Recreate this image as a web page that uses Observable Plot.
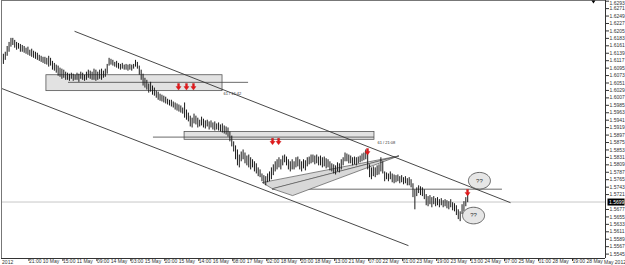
<!DOCTYPE html>
<html>
<head>
<meta charset="utf-8">
<script src="https://cdn.jsdelivr.net/npm/d3@7"></script>
<script src="https://cdn.jsdelivr.net/npm/@observablehq/plot@0.6"></script>
<style>
  html, body { margin: 0; padding: 0; background: #fff; }
  #chart svg { display: block; }
</style>
</head>
<body>
<div id="chart"></div>
<script>
// ---- hourly bars (GBP/USD, May 2012) ----
const high = [
1.6148,1.6136,1.6142,1.6159,1.6171,1.6183,1.6183,1.6177,1.6171,1.6168,
1.6165,1.6162,1.6159,1.6154,1.6157,1.6148,1.6151,1.6145,1.6142,1.6139,
1.6133,1.6130,1.6127,1.6127,1.6124,1.6130,1.6124,1.6115,1.6109,1.6104,
1.6101,1.6095,1.6092,1.6089,1.6083,1.6080,1.6077,1.6080,1.6077,1.6074,
1.6080,1.6077,1.6083,1.6080,1.6074,1.6083,1.6089,1.6086,1.6083,1.6092,
1.6089,1.6083,1.6089,1.6092,1.6086,1.6092,1.6106,1.6124,1.6121,1.6118,
1.6112,1.6115,1.6109,1.6106,1.6109,1.6104,1.6106,1.6104,1.6106,1.6104,
1.6106,1.6118,1.6112,1.6101,1.6089,1.6077,1.6065,1.6059,1.6048,1.6053,
1.6042,1.6036,1.6027,1.6024,1.6018,1.6015,1.6012,1.6009,1.6003,1.6000,
1.6000,1.5995,1.5992,1.5989,1.5986,1.5983,1.5977,1.5992,1.5971,1.5962,
1.5953,1.5947,1.5959,1.5953,1.5947,1.5941,1.5950,1.5944,1.5939,1.5941,
1.5936,1.5939,1.5933,1.5936,1.5930,1.5933,1.5927,1.5930,1.5924,1.5921,
1.5918,1.5906,1.5894,1.5877,1.5865,1.5853,1.5838,1.5847,1.5853,1.5844,
1.5835,1.5838,1.5830,1.5824,1.5818,1.5812,1.5800,1.5794,1.5782,1.5777,
1.5774,1.5782,1.5788,1.5800,1.5809,1.5818,1.5824,1.5830,1.5824,1.5835,
1.5838,1.5832,1.5824,1.5818,1.5824,1.5818,1.5830,1.5832,1.5824,1.5818,
1.5824,1.5821,1.5830,1.5832,1.5838,1.5838,1.5835,1.5838,1.5832,1.5835,
1.5830,1.5832,1.5827,1.5824,1.5818,1.5812,1.5809,1.5806,1.5815,1.5812,
1.5824,1.5830,1.5844,1.5841,1.5838,1.5835,1.5830,1.5832,1.5830,1.5832,
1.5835,1.5841,1.5844,1.5853,1.5853,1.5809,1.5800,1.5803,1.5800,1.5806,
1.5809,1.5830,1.5818,1.5788,1.5785,1.5782,1.5788,1.5782,1.5779,1.5777,
1.5779,1.5774,1.5777,1.5771,1.5774,1.5768,1.5771,1.5765,1.5753,1.5735,
1.5741,1.5747,1.5744,1.5741,1.5735,1.5721,1.5715,1.5718,1.5712,1.5715,
1.5709,1.5712,1.5706,1.5709,1.5703,1.5706,1.5703,1.5700,1.5706,1.5697,
1.5694,1.5688,1.5676,1.5670,1.5691,1.5700,1.5712,1.5726
];
const low = [
1.6098,1.6106,1.6118,1.6130,1.6142,1.6157,1.6162,1.6154,1.6148,1.6151,
1.6142,1.6142,1.6139,1.6136,1.6133,1.6130,1.6127,1.6124,1.6121,1.6118,
1.6115,1.6112,1.6109,1.6106,1.6104,1.6098,1.6101,1.6089,1.6086,1.6080,
1.6071,1.6068,1.6062,1.6065,1.6059,1.6059,1.6056,1.6062,1.6056,1.6059,
1.6059,1.6053,1.6062,1.6059,1.6056,1.6059,1.6065,1.6062,1.6059,1.6059,
1.6056,1.6059,1.6062,1.6059,1.6065,1.6068,1.6077,1.6101,1.6104,1.6101,
1.6098,1.6095,1.6092,1.6089,1.6092,1.6089,1.6089,1.6086,1.6089,1.6086,
1.6092,1.6098,1.6092,1.6074,1.6059,1.6042,1.6036,1.6030,1.6021,1.6024,
1.6015,1.6012,1.6006,1.6000,1.5997,1.5995,1.5992,1.5989,1.5986,1.5983,
1.5980,1.5977,1.5971,1.5968,1.5965,1.5962,1.5959,1.5947,1.5941,1.5936,
1.5921,1.5918,1.5930,1.5927,1.5918,1.5921,1.5924,1.5918,1.5915,1.5921,
1.5912,1.5918,1.5912,1.5909,1.5912,1.5909,1.5906,1.5903,1.5900,1.5897,
1.5891,1.5877,1.5862,1.5847,1.5824,1.5806,1.5800,1.5818,1.5824,1.5812,
1.5806,1.5800,1.5794,1.5800,1.5788,1.5782,1.5774,1.5771,1.5759,1.5753,
1.5747,1.5756,1.5759,1.5765,1.5777,1.5788,1.5794,1.5800,1.5794,1.5806,
1.5815,1.5806,1.5794,1.5788,1.5794,1.5794,1.5800,1.5803,1.5794,1.5788,
1.5797,1.5791,1.5803,1.5809,1.5812,1.5815,1.5809,1.5812,1.5806,1.5806,
1.5800,1.5803,1.5797,1.5800,1.5791,1.5788,1.5782,1.5779,1.5788,1.5785,
1.5794,1.5806,1.5818,1.5818,1.5812,1.5812,1.5806,1.5809,1.5806,1.5812,
1.5815,1.5818,1.5821,1.5824,1.5794,1.5771,1.5765,1.5774,1.5771,1.5777,
1.5779,1.5788,1.5782,1.5759,1.5765,1.5759,1.5765,1.5756,1.5753,1.5756,
1.5759,1.5753,1.5756,1.5750,1.5753,1.5747,1.5747,1.5741,1.5712,1.5676,
1.5715,1.5724,1.5718,1.5715,1.5706,1.5688,1.5685,1.5691,1.5682,1.5691,
1.5685,1.5688,1.5682,1.5688,1.5682,1.5685,1.5679,1.5676,1.5682,1.5673,
1.5670,1.5659,1.5647,1.5641,1.5662,1.5670,1.5685,1.5697
];
const lastPrice = 1.5699;

// ---- axis ticks ----
const xTickIdx = [14,32,50,68,86,104,122,140,158,176,194,212,230,248,266,284,302];
const xTickLabels = ["21:00 10 May","15:00 11 May","09:00 14 May","03:00 15 May","20:00 15 May",
  "14:00 16 May","08:00 17 May","02:00 18 May","20:00 18 May","13:00 21 May","07:00 22 May",
  "01:00 23 May","19:00 23 May","13:00 24 May","07:00 25 May","01:00 28 May","19:00 28 May"];
const yTickLabels = ["1.6293","1.6271","1.6249","1.6227","1.6205","1.6183","1.6161","1.6139","1.6117",
  "1.6095","1.6073","1.6051","1.6029","1.6007","1.5985","1.5963","1.5941","1.5919","1.5897","1.5875",
  "1.5853","1.5831","1.5809","1.5787","1.5765","1.5743","1.5721","1.5677","1.5655","1.5633",
  "1.5611","1.5589","1.5567","1.5545"];
const edgeLabels = ["2012", "May 2012"];

// ---- drawn objects (bar index, price) ----
const channelLines = [
  {x1: 38.7, y1: 1.6204, x2: 269.7, y2: 1.5697},
  {x1: 0,    y1: 1.6035, x2: 215.6, y2: 1.5570}
];
const zones = [
  {x1: 23.8, x2: 117.1, y1: 1.6074, y2: 1.6027},
  {x1: 97.0, x2: 197.6, y1: 1.5906, y2: 1.5883}
];
const levels = [
  {x1: 35.5, x2: 130.9, y: 1.6053},
  {x1: 80.5, x2: 197.6, y: 1.5891},
  {x1: 143.6, x2: 265.4, y: 1.5737}
];
const levelNotes = [
  {x: 117.6, y: 1.6018, text: "61 / 16:42"},
  {x: 199.2, y: 1.5874, text: "61 / 21:08"}
];
const wedgePts = [
  {id: "a", x: 138.3, y: 1.5756}, {id: "a", x: 143.6, y: 1.5738}, {id: "a", x: 210.3, y: 1.5835},
  {id: "b", x: 143.6, y: 1.5738}, {id: "b", x: 154.2, y: 1.5718}, {id: "b", x: 210.3, y: 1.5835}
];
const arrows = [
  {x: 93.8, y: 1.6039}, {x: 98.0, y: 1.6039}, {x: 101.7, y: 1.6039},
  {x: 143.6, y: 1.5877}, {x: 146.8, y: 1.5877},
  {x: 193.9, y: 1.5847}, {x: 246.9, y: 1.5726}
];
const bubbles = [
  {x: 253.2, y: 1.5762, text: "??"},
  {x: 250.1, y: 1.5659, text: "??"}
];

const bars = high.map((h, i) => ({i, high: h, low: low[i]}));
const yTicks = yTickLabels.map(Number);

const downArrow = {draw(ctx) {
  ctx.moveTo(-1, -3.5); ctx.lineTo(1, -3.5); ctx.lineTo(1, -0.5); ctx.lineTo(2.6, -0.5);
  ctx.lineTo(0, 3); ctx.lineTo(-2.6, -0.5); ctx.lineTo(-1, -0.5); ctx.closePath();
}};
const ellipse = {draw(ctx) {
  for (let k = 0; k <= 48; k++) {
    const a = k / 48 * 2 * Math.PI, px = 11 * Math.cos(a), py = 8.3 * Math.sin(a);
    k ? ctx.lineTo(px, py) : ctx.moveTo(px, py);
  }
  ctx.closePath();
}};
const priceBox = {draw(ctx) { ctx.rect(0, -3.5, 17, 7); }};
const shiftMark = {draw(ctx) { ctx.moveTo(-2, 0); ctx.lineTo(2, 0); ctx.lineTo(0, 3); ctx.closePath(); }};

const yMin = 1.5532, yMax = 1.6295, xMax = 320;

const chart = Plot.plot({
  width: 625, height: 265,
  marginLeft: 1, marginRight: 20, marginTop: 0, marginBottom: 7,
  style: {fontFamily: "Liberation Sans, Arial, sans-serif", background: "#fff"},
  x: {domain: [0, xMax], axis: null},
  y: {domain: [yMin, yMax], axis: null},
  marks: [
    Plot.ruleY([lastPrice], {stroke: "#c8c8c8", strokeWidth: 1}),
    Plot.rect(zones, {x1: "x1", x2: "x2", y1: "y1", y2: "y2", fill: "#e2e2e2", stroke: "#555", strokeWidth: 0.8}),
    Plot.ruleY(levels, {x1: "x1", x2: "x2", y: "y", stroke: "#444", strokeWidth: 0.8}),
    Plot.line(wedgePts, {x: "x", y: "y", z: "id", fill: "#d8d8d8", stroke: "#555", strokeWidth: 0.7, curve: "linear-closed"}),
    Plot.link(channelLines, {x1: "x1", y1: "y1", x2: "x2", y2: "y2", stroke: "#333", strokeWidth: 0.9}),
    Plot.ruleX(bars, {x: "i", y1: "low", y2: "high", stroke: "#1a1a1a", strokeWidth: 1}),
    Plot.text(levelNotes, {x: "x", y: "y", text: "text", fontSize: 4, fill: "#333", textAnchor: "start"}),
    Plot.dot(arrows, {x: "x", y: "y", symbol: downArrow, fill: "#e3181b", stroke: "#b00", strokeWidth: 0.3}),
    Plot.dot(bubbles, {x: "x", y: "y", symbol: ellipse, fill: "#e6e6e6", stroke: "#444", strokeWidth: 0.8}),
    Plot.text(bubbles, {x: "x", y: "y", text: "text", fontSize: 6, fill: "#333"}),
    // frame
    Plot.ruleY([yMax], {stroke: "#777", strokeWidth: 1}),
    Plot.ruleX([0], {stroke: "#777", strokeWidth: 1}),
    Plot.ruleY([yMin], {stroke: "#333", strokeWidth: 1}),
    Plot.ruleX([xMax], {stroke: "#333", strokeWidth: 1}),
    Plot.dot([yMax], {x: 313.6, y: d => d, symbol: shiftMark, fill: "#000", stroke: null}),
    // right price axis (top label nudged inside the picture)
    Plot.axisY({anchor: "right", ticks: yTicks, tickFormat: d => d === yTicks[0] ? "" : d.toFixed(4),
      tickSize: 3, tickPadding: 1, fontSize: 5, label: null, stroke: "#333", fill: "#333"}),
    Plot.text([yTicks[0]], {x: xMax, y: d => d, text: d => d.toFixed(4), dx: 4, dy: 2.2, textAnchor: "start", fontSize: 5, fill: "#333"}),
    Plot.dot([lastPrice], {x: xMax, y: d => d, symbol: priceBox, fill: "#000", stroke: null, dx: 2}),
    Plot.text([lastPrice], {x: xMax, y: d => d, text: d => d.toFixed(4), dx: 3.5, textAnchor: "start", fontSize: 5, fill: "#fff"}),
    // time axis
    Plot.axisX({ticks: xTickIdx, tickFormat: (d) => xTickLabels[xTickIdx.indexOf(d)],
      tickSize: 3, tickPadding: -2.5, fontSize: 5, textAnchor: "start", dx: 1, label: null, stroke: "#333", fill: "#333"}),
    Plot.text([edgeLabels[0]], {x: 0.3, y: yMin, text: d => d, textAnchor: "start", dy: 3.5, fontSize: 5, fill: "#333"}),
    Plot.text([edgeLabels[1]], {x: xMax, y: yMin, text: d => d, textAnchor: "start", dx: -1.5, dy: 3.5, fontSize: 5, fill: "#333"})
  ]
});
document.getElementById("chart").appendChild(chart);
</script>
</body>
</html>
